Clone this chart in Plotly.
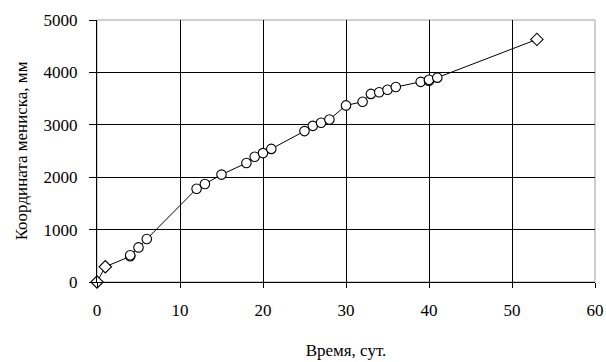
import plotly.graph_objects as go

# Data
time_days = [0, 1, 4, 4, 5, 6, 12, 13, 15, 18, 19, 20, 21, 25, 26, 27, 28, 30, 32, 33, 34, 35, 36, 39, 40, 40, 41, 53]
meniscus_mm = [0, 290, 490, 510, 660, 820, 1780, 1870, 2050, 2270, 2390, 2460, 2540, 2880, 2980, 3040, 3100, 3370, 3440, 3590, 3620, 3670, 3720, 3820, 3840, 3860, 3900, 4630]
symbols = ["diamond", "diamond"] + ["circle"] * 25 + ["diamond"]

x_ticks = [0, 10, 20, 30, 40, 50, 60]
y_ticks = [0, 1000, 2000, 3000, 4000, 5000]

font_family = "Times New Roman, Liberation Serif, DejaVu Serif, serif"

fig = go.Figure()
fig.add_trace(go.Scatter(
    x=time_days, y=meniscus_mm, mode="lines",
    line=dict(color="black", width=1), showlegend=False, hoverinfo="skip",
    cliponaxis=False))
fig.add_trace(go.Scatter(
    x=time_days, y=meniscus_mm, mode="markers",
    marker=dict(symbol=symbols, size=9.5, opacity=1,
                color="#ffffff", line=dict(color="black", width=1.1)),
    showlegend=False, cliponaxis=False))

fig.update_layout(
    width=606, height=362,
    margin=dict(l=97, r=11, t=20, b=80),
    paper_bgcolor="white", plot_bgcolor="white",
    font=dict(family=font_family, size=17, color="black"),
    shapes=[dict(type="rect", xref="paper", yref="paper", x0=0, y0=0, x1=1, y1=1,
                 line=dict(color="#a0a0a0", width=1), layer="below")],
)
fig.update_xaxes(
    range=[0, 60], tickvals=x_ticks, ticktext=[str(v) for v in x_ticks],
    showgrid=True, gridcolor="black", gridwidth=1,
    showline=True, linecolor="black", linewidth=1,
    ticks="outside", ticklen=5, tickcolor="black", zeroline=False,
    ticklabelstandoff=8, automargin=False,
    title=dict(text="Время, сут.", font=dict(size=17, family=font_family), standoff=24),
    tickfont=dict(size=17, family=font_family),
)
fig.update_yaxes(
    range=[0, 5000], tickvals=y_ticks, ticktext=[str(v) for v in y_ticks],
    showgrid=True, gridcolor="black", gridwidth=1,
    showline=True, linecolor="black", linewidth=1,
    ticks="outside", ticklen=7, tickcolor="black", zeroline=False,
    ticklabelstandoff=8, automargin=False,
    title=dict(text="Координата мениска, мм", font=dict(size=17, family=font_family), standoff=11),
    tickfont=dict(size=17, family=font_family),
)

fig.write_html("out.html", config={"displayModeBar": False},
               post_script="document.body.style.margin='0';document.body.style.overflow='hidden';")
